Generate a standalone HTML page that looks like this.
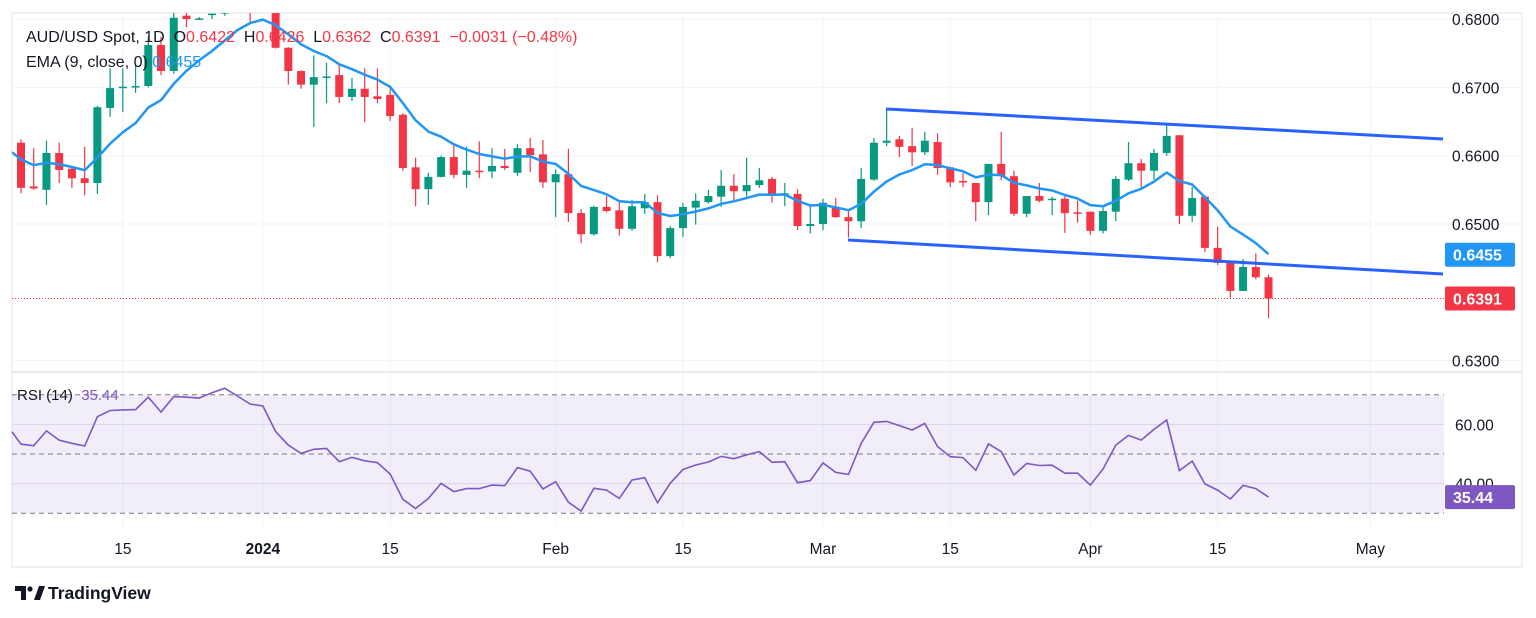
<!DOCTYPE html>
<html><head><meta charset="utf-8"><style>
html,body{margin:0;padding:0;background:#fff;}
svg{display:block;font-family:"Liberation Sans",sans-serif;}
text{white-space:pre;}
</style></head><body>
<svg id="chart" width="1536" height="618" viewBox="0 0 1536 618" xmlns="http://www.w3.org/2000/svg">
<defs><clipPath id="pc"><rect x="12" y="13" width="1432" height="358"/></clipPath></defs>
<rect x="12" y="13" width="1510" height="554" fill="#fff" stroke="#e0e3eb" stroke-width="1"/>
<g id="grid"></g>
<rect x="12" y="395" width="1432" height="118" fill="rgba(126,87,194,0.1)"/>
<g id="rsidash"></g>
<line x1="12" y1="372" x2="1522" y2="372" stroke="#e0e3eb" stroke-width="1.5"/>
<g clip-path="url(#pc)">
<g id="candles"></g>
<path id="ema" fill="none" stroke="#2196f3" stroke-width="2.5" stroke-linejoin="round"/>
<line id="lastline" x1="12" x2="1444" stroke="#f23645" stroke-width="1" stroke-dasharray="1,2"/>
<line x1="886" y1="109" x2="1443" y2="139" stroke="#2962ff" stroke-width="3"/>
<line x1="848" y1="240" x2="1443" y2="274" stroke="#2962ff" stroke-width="3"/>
</g>
<path id="rsiline" fill="none" stroke="#7e57c2" stroke-width="1.6"/>
<g id="axes" font-size="15.5" fill="#131722"></g>
<g font-size="16">
<text x="26" y="42" fill="#131722">AUD/USD Spot, 1D  O<tspan fill="#f23645">0.6422</tspan>  H<tspan fill="#f23645">0.6426</tspan>  L<tspan fill="#f23645">0.6362</tspan>  C<tspan fill="#f23645">0.6391  −0.0031 (−0.48%)</tspan></text>
<text x="26" y="67" fill="#131722">EMA (9, close, 0) <tspan fill="#2196f3">0.6455</tspan></text>
<text x="17" y="400" fill="#131722" font-size="15">RSI (14)  <tspan fill="#7e57c2">35.44</tspan></text>
</g>
<g>
<path d="M15 586 h11 v14 h-5 v-9 h-6z" fill="#131722"/>
<circle cx="30" cy="589" r="2.6" fill="#131722"/>
<path d="M34 600 l5 -14 h6 l-5 14z" fill="#131722"/>
<text x="48" y="599" font-size="17.5" font-weight="bold" fill="#131722">TradingView</text>
</g>
</svg>
<script>
const opens=[.6619,.6555,.6550,.6604,.6581,.6567,.6560,.6670,.6699,.6700,.6702,.6762,.6724,.6805,.6800,.6806,.6808,.6830,.6845,.6835,.6820,.6758,.6724,.6704,.6714,.6718,.6686,.6698,.6687,.6689,.6660,.6583,.6551,.6569,.6598,.6572,.6578,.6577,.6585,.6575,.6611,.6602,.6561,.6573,.6516,.6485,.6525,.6520,.6493,.6523,.6532,.6453,.6494,.6524,.6532,.6540,.6556,.6548,.6557,.6566,.6543,.6544,.6497,.6500,.6525,.6510,.6504,.6565,.6619,.6624,.6614,.6605,.6620,.6583,.6563,.6560,.6532,.6588,.6570,.6515,.6541,.6535,.6537,.6517,.6518,.6490,.6518,.6565,.6589,.6578,.6604,.6630,.6512,.6540,.6465,.6444,.6402,.6437,.6422];
const closes=[.6553,.6552,.6604,.6579,.6567,.6560,.6671,.6699,.6701,.6702,.6762,.6724,.6802,.6800,.6801,.6808,.6830,.6845,.6835,.6820,.6758,.6724,.6704,.6715,.6716,.6686,.6698,.6686,.6683,.6658,.6582,.6551,.6569,.6598,.6572,.6578,.6577,.6585,.6582,.6611,.6601,.6561,.6573,.6516,.6485,.6525,.6519,.6493,.6526,.6532,.6453,.6494,.6525,.6534,.6541,.6556,.6548,.6557,.6564,.6541,.6545,.6497,.6500,.6531,.6510,.6504,.6566,.6619,.6622,.6613,.6605,.6622,.6582,.6561,.6561,.6532,.6588,.6570,.6515,.6541,.6534,.6537,.6516,.6516,.6490,.6519,.6566,.6589,.6578,.6604,.6629,.6512,.6538,.6465,.6443,.6402,.6437,.6422,.6391];
const highs=[.6624,.6611,.6622,.6619,.6583,.6613,.6673,.6728,.6728,.6733,.6774,.6774,.6812,.6816,.6803,.6808,.6845,.6870,.6860,.6850,.6830,.6759,.6725,.6747,.6736,.6733,.6714,.6728,.6728,.6703,.6662,.6597,.6575,.6600,.6616,.6613,.6621,.6611,.6610,.6617,.6626,.6623,.6580,.6610,.6522,.6527,.6541,.6532,.6535,.6544,.6542,.6497,.6531,.6545,.6550,.6579,.6573,.6597,.6582,.6569,.6560,.6551,.6529,.6537,.6538,.6520,.6582,.6626,.6668,.6629,.6641,.6635,.6633,.6584,.6575,.6560,.6588,.6635,.6578,.6541,.6560,.6540,.6542,.6534,.6518,.6524,.6570,.6620,.6595,.6610,.6645,.6630,.6554,.6542,.6496,.6444,.6449,.6457,.6426];
const lows=[.6545,.6550,.6528,.6560,.6553,.6542,.6544,.6657,.6664,.6692,.6700,.6718,.6720,.6788,.6799,.6800,.6805,.6825,.6795,.6812,.6757,.6704,.6698,.6642,.6677,.6677,.6680,.6649,.6677,.6651,.6578,.6526,.6528,.6568,.6567,.6553,.6567,.6567,.6579,.6570,.6576,.6553,.6510,.6503,.6472,.6483,.6517,.6483,.6490,.6515,.6444,.6450,.6481,.6499,.6530,.6525,.6535,.6540,.6553,.6531,.6526,.6491,.6486,.6491,.6509,.6480,.6494,.6563,.6614,.6598,.6585,.6601,.6572,.6554,.6554,.6504,.6513,.6564,.6512,.6510,.6532,.6513,.6487,.6502,.6484,.6486,.6504,.6563,.6551,.6565,.6600,.6500,.6503,.6459,.6440,.6392,.6402,.6419,.6362];
const rsi=[53.3,52.8,57.8,54.7,53.6,52.7,62.6,64.7,64.9,65.0,69.2,64.2,69.4,69.2,68.9,70.7,72.2,69.6,66.9,66.2,57.6,53.0,50.2,51.6,51.9,47.4,48.9,47.7,47.1,43.2,34.7,31.6,35.0,40.1,37.3,38.3,38.3,39.5,39.3,45.4,44.2,38.2,40.6,33.7,30.7,38.4,37.8,35.0,41.2,42.0,33.5,40.1,44.8,46.3,47.3,49.2,48.4,49.7,50.8,47.2,47.4,40.3,41.0,47.0,43.8,43.1,53.6,60.7,61.0,59.6,58.1,60.3,52.5,49.1,48.8,44.5,53.4,50.8,42.9,46.8,46.1,46.2,43.5,43.5,39.5,44.9,53.0,56.3,54.7,58.3,61.5,44.4,47.6,39.9,37.8,34.8,39.4,38.3,35.44];
const rsiPrev=57.5;
const priceTicks=["0.6800","0.6700","0.6600","0.6500","0.6300"];
const priceTickVals=[0.68,0.67,0.66,0.65,0.63];
const rsiTicks=["60.00","40.00"];
const rsiTickVals=[60,40];
const timeLabels=["15","2024","15","Feb","15","Mar","15","Apr","15","May"];
const timeIdx=[8,19,29,42,52,63,73,84,94,106];
const emaSeed=0.6605;
const lastPrice=0.6391, emaLast=0.6455, rsiLast=35.44;

const NS="http://www.w3.org/2000/svg";
const X=i=>21+12.73*i;
const Y=p=>224-(p-0.65)*6830;
const RY=r=>454-(r-50)*2.96;
function mk(tag,attrs,parent){const e=document.createElementNS(NS,tag);for(const k in attrs)e.setAttribute(k,attrs[k]);parent.appendChild(e);return e;}
const grid=document.getElementById('grid'),axes=document.getElementById('axes'),cg=document.getElementById('candles');
priceTickVals.forEach((v,k)=>{
 const l=mk('line',{x1:12,x2:1522,y1:Y(v),y2:Y(v),stroke:'#f0f3fa','stroke-width':1},grid);
 
 
 const t=mk('text',{x:1452,y:Y(v)+6},axes);t.textContent=priceTicks[k];
 
 
});
rsiTickVals.forEach((v,k)=>{
 const l=mk('line',{x1:12,x2:1444,y1:RY(v),y2:RY(v),stroke:'#e6e1f0','stroke-width':1},grid);
 
 
 const t=mk('text',{x:1455,y:RY(v)+6},axes);t.textContent=rsiTicks[k];
 
 
});
timeIdx.forEach((ix,k)=>{
 const x=X(ix);
 const l=mk('line',{x1:x,x2:x,y1:13,y2:527,stroke:'#f0f3fa','stroke-width':1},grid);
 
 
 const t=mk('text',{x:x,y:554,'text-anchor':'middle'},axes);t.textContent=timeLabels[k];
 if(timeLabels[k]==='2024')t.setAttribute('font-weight','bold');
 
 
});
const rd=document.getElementById('rsidash');
[70,50,30].forEach(v=>{
 const l=mk('line',{x1:12,x2:1444,y1:RY(v),y2:RY(v),stroke:'#787b86','stroke-width':1,'stroke-dasharray':'5,4'},rd);
 
 
});
opens.forEach((o,i)=>{
 const c=closes[i],col=c>=o?'#089981':'#f23645',x=X(i);
 const w=mk('line',{x1:x,x2:x,y1:Y(highs[i]),y2:Y(lows[i]),stroke:col,'stroke-width':1.2},cg);
 
 
 const top=Y(Math.max(o,c)),h=Math.max(1.5,Math.abs(Y(o)-Y(c)));
 const b=mk('rect',{x:x-4,y:top,width:8,height:h,fill:col},cg);
 
 
});
let e=emaSeed,d='M12 '+Y(e).toFixed(1);
closes.forEach((c,i)=>{e=e+(c-e)*0.2;d+=' L'+X(i).toFixed(1)+' '+Y(e).toFixed(1);});
document.getElementById('ema').setAttribute('d',d);
let rdp='M12 '+RY(rsiPrev).toFixed(1);rsi.forEach((r,i)=>{rdp+=' L'+X(i).toFixed(1)+' '+RY(r).toFixed(1);});
document.getElementById('rsiline').setAttribute('d',rdp);
const ll=document.getElementById('lastline');ll.setAttribute('y1',Y(lastPrice));ll.setAttribute('y2',Y(lastPrice));
function badge(val,txt,col,name){
 const g=mk('g',{},axes);
 
 
 mk('rect',{x:1445,y:val-12,width:70,height:24,rx:2,fill:col},g);
 const t=mk('text',{x:1453,y:val+6,fill:'#fff','font-size':'16','font-weight':'bold'},g);t.textContent=txt;
}
badge(Y(emaLast),'0.6455','#2196f3','ema-price-badge');
badge(Y(lastPrice),'0.6391','#f23645','last-price-badge');
badge(RY(rsiLast),'35.44','#7e57c2','rsi-value-badge');
</script>
</body></html>
